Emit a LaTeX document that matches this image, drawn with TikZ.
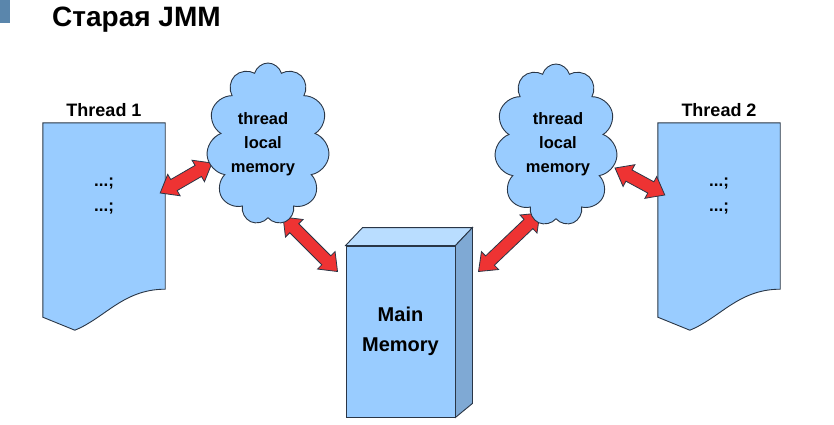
\documentclass[tikz,border=0pt]{standalone}
\usepackage{fontspec}
\setmainfont{Liberation Sans}
\usetikzlibrary{shapes.symbols,shapes.arrows,calc,positioning}

\definecolor{memblue}{HTML}{99CCFF}
\definecolor{memtop}{HTML}{B9DDFF}
\definecolor{memside}{HTML}{7FA9D4}
\definecolor{edge}{HTML}{2A3646}
\definecolor{arrred}{HTML}{EE3333}
\definecolor{barblue}{HTML}{5A86AC}

\pgfdeclarelayer{bg}
\pgfdeclarelayer{mid}
\pgfsetlayers{bg,mid,main}

% double block arrow between two named points
\newcommand{\memarrow}[3]{%
  \path let \p1=($(#3)-(#2)$), \n1={atan2(\y1,\x1)}, \n2={veclen(\x1,\y1)} in
    node[dblarrow, rotate=\n1, minimum height=\n2] (#1) at ($(#2)!.5!(#3)$) {};
}

\begin{document}
\begin{tikzpicture}[x=1pt, y=-1pt,
    thrbox/.style={minimum width=122pt, minimum height=166pt, inner sep=0pt},
    thrline/.style={draw=edge, fill=memblue, line width=0.9pt},
    cloudy/.style={cloud, draw=edge, fill=memblue, line width=0.9pt, cloud puffs=11,
      aspect=0.76, inner sep=0pt, minimum width=123pt, minimum height=162pt},
    cltext/.style={font=\fontsize{16.5}{24}\selectfont\bfseries, align=center, inner sep=0pt},
    lbl/.style={font=\fontsize{18}{22}\selectfont\bfseries, inner sep=0pt},
    dots/.style={font=\fontsize{17}{25}\selectfont\bfseries, align=center, inner sep=0pt},
    mmbox/.style={draw=edge, fill=memblue, line width=0.9pt, minimum width=109pt,
      minimum height=171pt, inner sep=0pt, align=center,
      font=\fontsize{20}{30}\selectfont\bfseries},
    dblarrow/.style={double arrow, draw=edge, fill=arrred, line width=0.8pt, inner sep=0pt,
      text height=6pt, text depth=6pt, double arrow head extend=6pt,
      double arrow tip angle=76}]
  \useasboundingbox (0,0) rectangle (834,425);

  % Title
  \fill[barblue] (0,0) rectangle (10,23);
  \node[font=\fontsize{28}{32}\selectfont\bfseries, anchor=base west, inner sep=0pt]
    (title) at (52,27) {Старая JMM};

  % Threads
  \node[thrbox] (thr1) at (104,206) {};
  \node[thrbox] (thr2) at (719,206) {};
  \begin{pgfonlayer}{bg}
    \foreach \t in {thr1, thr2} {
      \draw[thrline] (\t.north west) -- (\t.north east) -- (\t.south east)
        .. controls +(-42,0) and +(30,-12) .. ($(\t.south west)+(32,41)$)
        -- ($(\t.south west)+(0,28)$) -- cycle;
    }
  \end{pgfonlayer}
  \node[lbl, above=6pt of thr1.north] (lbl1) {Thread 1};
  \node[lbl, above=6pt of thr2.north] (lbl2) {Thread 2};
  \node[dots] (dot1) at ($(thr1.center)+(0,-10)$) {...;\\...;};
  \node[dots] (dot2) at ($(thr2.center)+(0,-10)$) {...;\\...;};

  % Thread local memory
  \node[cloudy] (cl1) at (268,144) {};
  \node[cloudy] (cl2) at (556,145) {};
  \node[cltext] (cl1txt) at ($(cl1.center)+(-5,0)$) {thread\\local\\memory};
  \node[cltext] (cl2txt) at ($(cl2.center)+(2,-1)$) {thread\\local\\memory};

  % Main memory box
  \node[mmbox] (mm) at (400.5,331.5) {Main\\Memory};
  \draw[draw=edge, fill=memtop, line width=0.9pt] (mm.north west) -- ++(17,-18)
    -- ($(mm.north east)+(17,-18)$) -- (mm.north east) -- cycle;
  \draw[draw=edge, fill=memside, line width=0.9pt] (mm.north east) -- ++(17,-18)
    -- ($(mm.south east)+(17,-14)$) -- (mm.south east) -- cycle;

  % Arrow ends
  \coordinate (a1s) at ($(thr1.east)+(-5,-13)$);
  \coordinate (a1e) at ($(cl1.center)+(-56,19)$);
  \coordinate (a2s) at ($(cl1.center)+(15,73)$);
  \coordinate (a2e) at ($(mm.north west)+(-8,26)$);
  \coordinate (a3s) at ($(mm.north east)+(23,26)$);
  \coordinate (a3e) at ($(cl2.center)+(-16,68)$);
  \coordinate (a4s) at ($(cl2.center)+(59,23)$);
  \coordinate (a4e) at ($(thr2.west)+(7,-11)$);

  % Arrows
  \begin{pgfonlayer}{mid}
    \foreach \a/\s/\e in {arr1/a1s/a1e, arr2/a2s/a2e, arr3/a3s/a3e, arr4/a4s/a4e} {
      \memarrow{\a}{\s}{\e}
    }
  \end{pgfonlayer}
\end{tikzpicture}
\end{document}
